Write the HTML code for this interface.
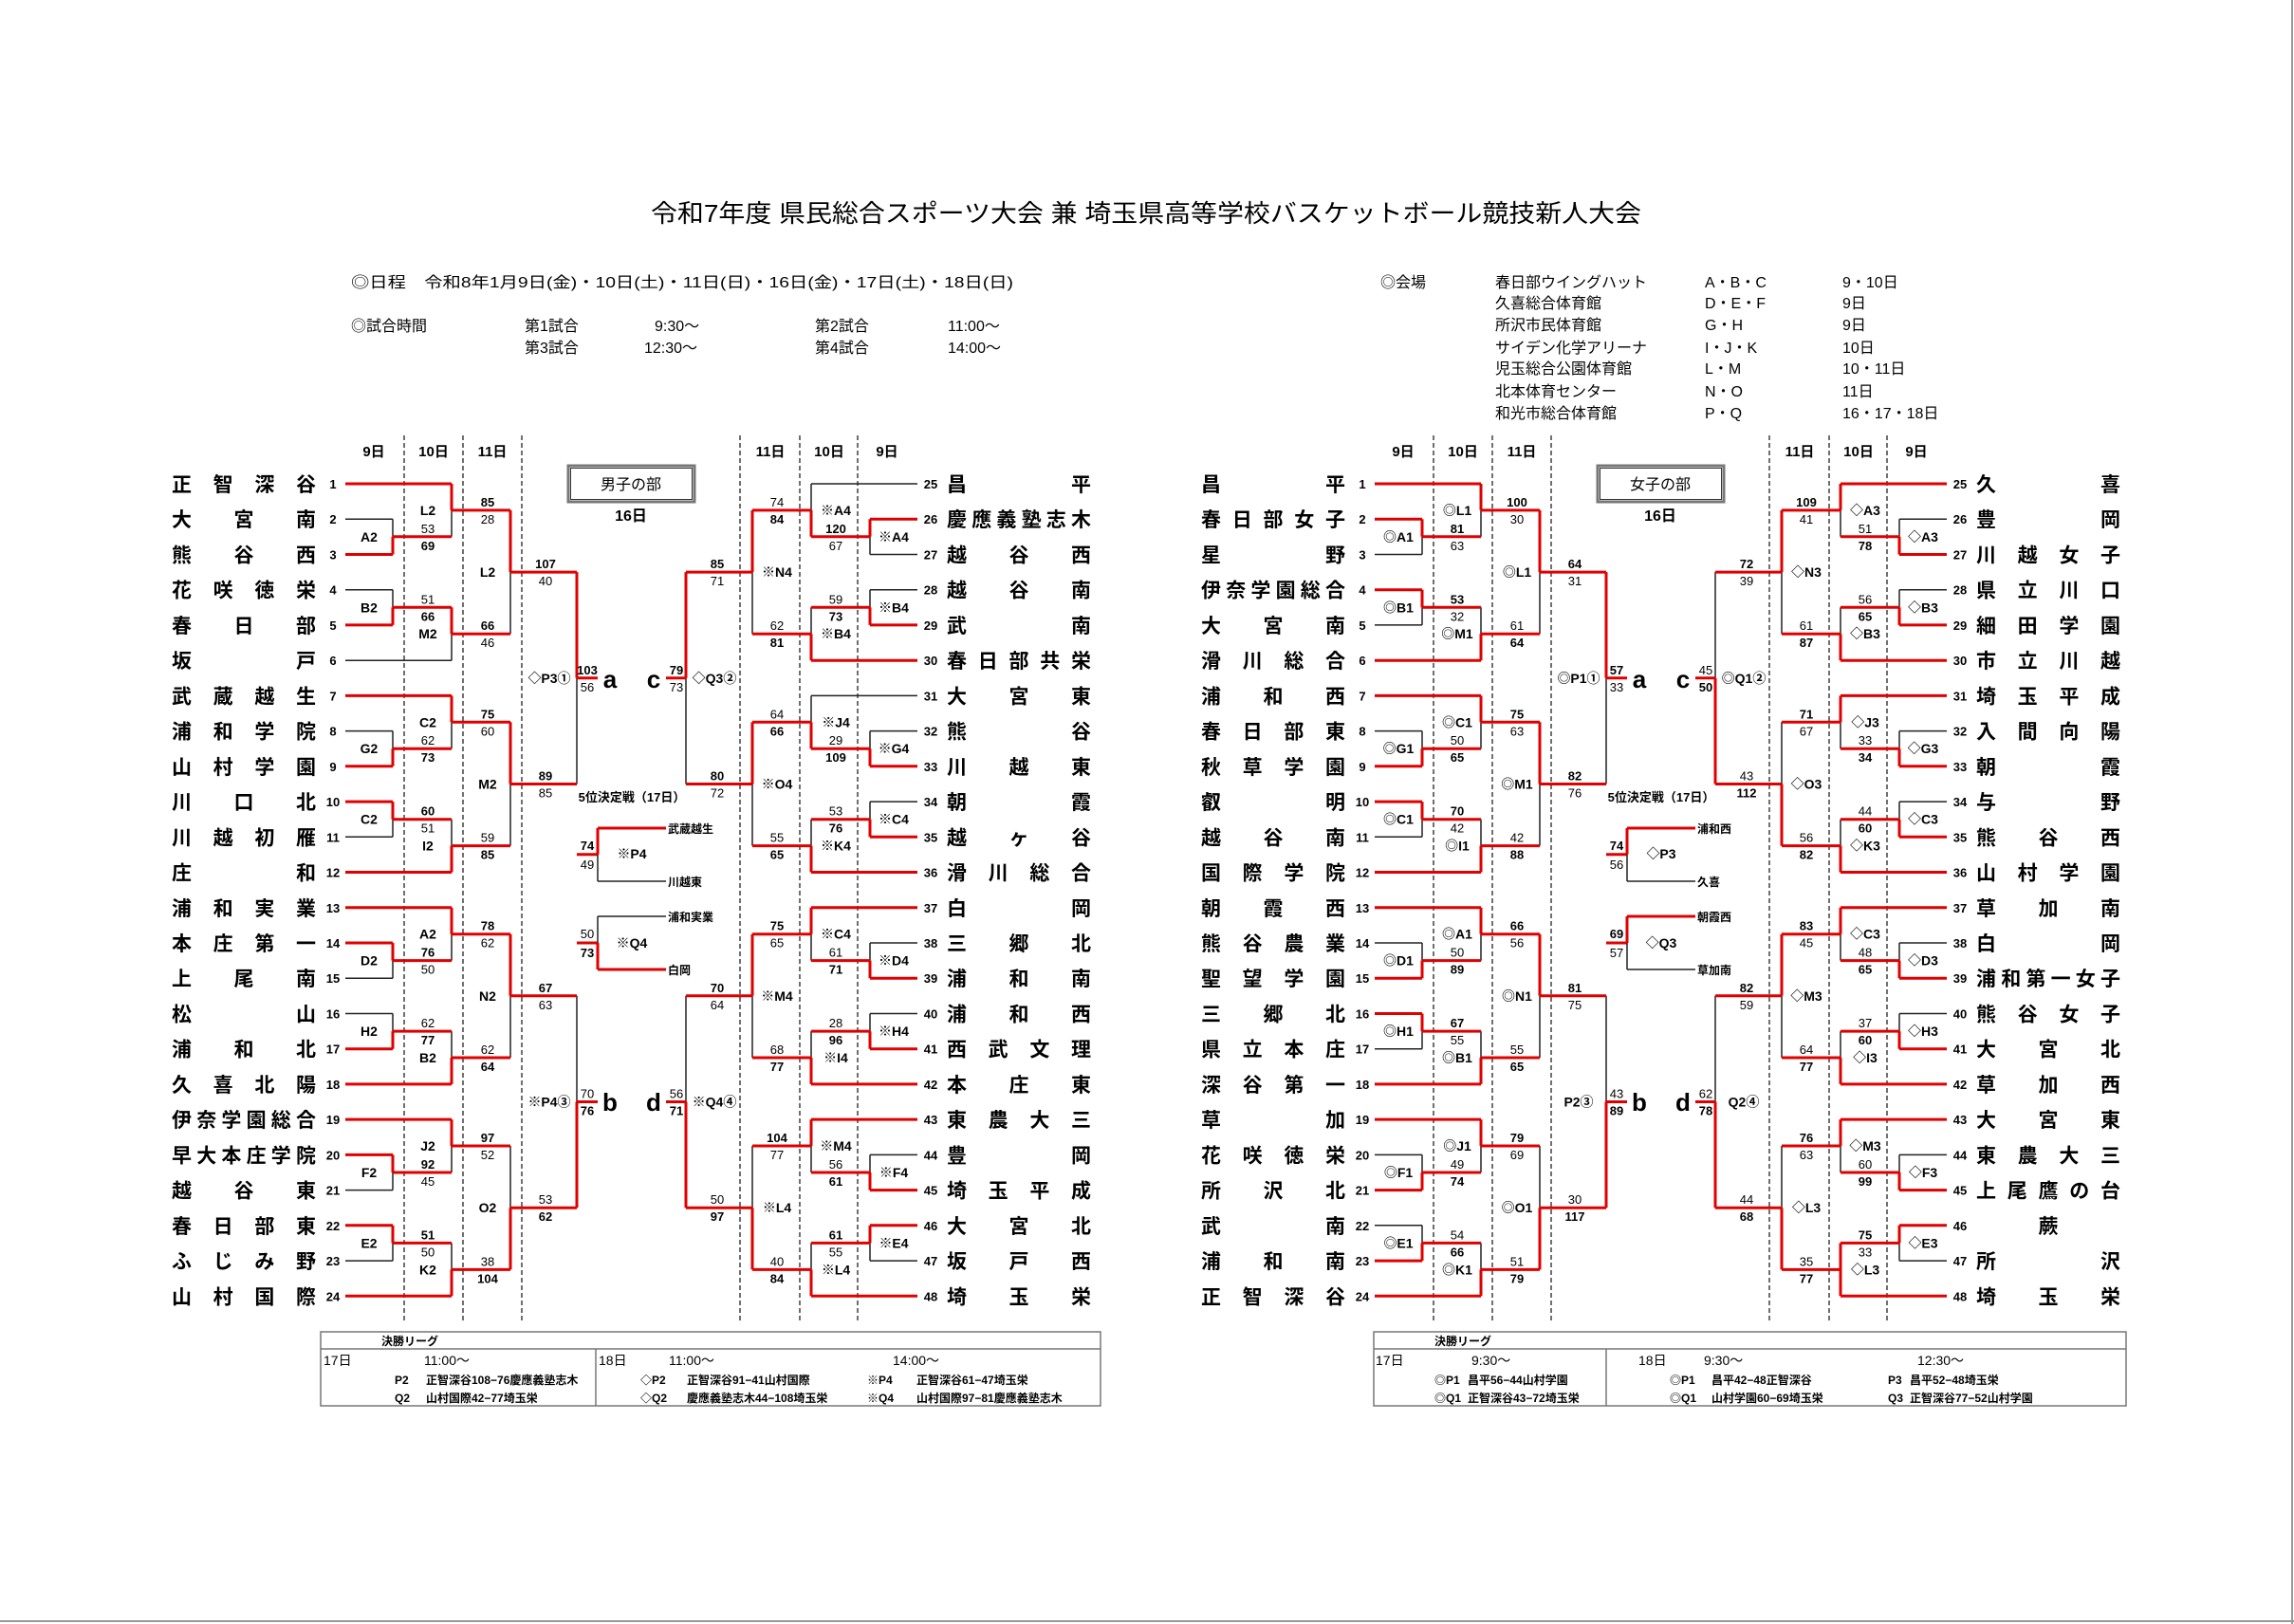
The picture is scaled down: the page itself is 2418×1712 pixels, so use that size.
<!DOCTYPE html>
<html><head><meta charset="utf-8">
<style>
html,body{margin:0;padding:0;background:#fff;}
svg{display:block}
svg text{font-family:"Liberation Sans","Noto Sans CJK JP",sans-serif;fill:#000}
.n{font-size:21px;font-weight:bold}
.k{font-size:13px;font-weight:bold;text-anchor:middle}
.s{font-size:13px;text-anchor:middle}
.b{font-weight:bold}
.l{font-size:14px;font-weight:bold;text-anchor:middle}
.d{font-size:15px;font-weight:bold;text-anchor:middle}
.h{font-size:16px}
.f{font-size:12px;font-weight:bold}
.fr{font-size:14px}
.r{stroke:#e00000;stroke-width:3;fill:none}
.g{stroke:#222;stroke-width:1.5;fill:none}
.ds{stroke:#222;stroke-width:1.3;stroke-dasharray:5 3;fill:none}
</style></head><body>
<svg width="2418" height="1712" viewBox="0 0 2418 1712" xmlns="http://www.w3.org/2000/svg">
<rect x="0" y="0" width="2418" height="1712" fill="#fff"/>
<line x1="0" y1="1709" x2="2418" y2="1709" stroke="#999" stroke-width="2"/>
<line x1="2416" y1="0" x2="2416" y2="1712" stroke="#999" stroke-width="2"/>

<!-- header -->
<text x="686" y="234" font-size="26" textLength="1044" lengthAdjust="spacingAndGlyphs">令和7年度  県民総合スポーツ大会  兼  埼玉県高等学校バスケットボール競技新人大会</text>
<text class="h" x="370" y="303" textLength="698" lengthAdjust="spacingAndGlyphs">◎日程　令和8年1月9日(金)・10日(土)・11日(日)・16日(金)・17日(土)・18日(日)</text>
<text class="h" x="370" y="349">◎試合時間</text>
<text class="h" x="553" y="349">第1試合</text><text class="h" x="690" y="349">9:30〜</text>
<text class="h" x="859" y="349">第2試合</text><text class="h" x="999" y="349">11:00〜</text>
<text class="h" x="553" y="372">第3試合</text><text class="h" x="679" y="372">12:30〜</text>
<text class="h" x="859" y="372">第4試合</text><text class="h" x="999" y="372">14:00〜</text>
<text class="h" x="1455" y="303">◎会場</text>
<g class="h">
<text class="h" x="1576" y="303">春日部ウイングハット</text><text class="h" x="1797" y="303">A・B・C</text><text class="h" x="1942" y="303">9・10日</text>
<text class="h" x="1576" y="325">久喜総合体育館</text><text class="h" x="1797" y="325">D・E・F</text><text class="h" x="1942" y="325">9日</text>
<text class="h" x="1576" y="348">所沢市民体育館</text><text class="h" x="1797" y="348">G・H</text><text class="h" x="1942" y="348">9日</text>
<text class="h" x="1576" y="372">サイデン化学アリーナ</text><text class="h" x="1797" y="372">I・J・K</text><text class="h" x="1942" y="372">10日</text>
<text class="h" x="1576" y="394">児玉総合公園体育館</text><text class="h" x="1797" y="394">L・M</text><text class="h" x="1942" y="394">10・11日</text>
<text class="h" x="1576" y="418">北本体育センター</text><text class="h" x="1797" y="418">N・O</text><text class="h" x="1942" y="418">11日</text>
<text class="h" x="1576" y="441">和光市総合体育館</text><text class="h" x="1797" y="441">P・Q</text><text class="h" x="1942" y="441">16・17・18日</text>
</g>

<!-- ===== MEN ===== -->
<g id="men">
<path class="ds" d="M426 459V1392M488 459V1392M550 459V1392M780 459V1392M843 459V1392M904 459V1392"/>
<text class="d" x="394" y="481">9日</text><text class="d" x="457" y="481">10日</text><text class="d" x="519" y="481">11日</text>
<text class="d" x="812" y="481">11日</text><text class="d" x="874" y="481">10日</text><text class="d" x="935" y="481">9日</text>
<rect x="599" y="491" width="133" height="38" fill="none" stroke="#777" stroke-width="3"/>
<rect x="601.5" y="493.5" width="128" height="33" fill="none" stroke="#333" stroke-width="1"/>
<text x="665" y="516" font-size="16" text-anchor="middle">男子の部</text>
<text x="665" y="549" font-size="16" font-weight="bold" text-anchor="middle">16日</text>
<text x="643" y="725" font-size="26" font-weight="bold" text-anchor="middle">a</text>
<text x="689" y="725" font-size="26" font-weight="bold" text-anchor="middle">c</text>
<text x="643" y="1171" font-size="26" font-weight="bold" text-anchor="middle">b</text>
<text x="689" y="1171" font-size="26" font-weight="bold" text-anchor="middle">d</text>
<text x="666" y="845" font-size="13" font-weight="bold" text-anchor="middle">5位決定戦（17日）</text>

<!-- men left lines -->
<path class="g" d="M364 547.2H414M414 547.2V565.8M476 537.9V565.8M364 621.7H414M414 621.7V640.3M364 696.2H476M476 668.2V696.2M538 603.1V668.2
M364 770.6H414M414 770.6V789.2M476 761.3V789.2M364 882.3H414M414 863.7V882.3M476 863.7V891.6M538 826.5V891.6M608 714.8V826.5
M364 1031.2H414M414 1012.6V1031.2M476 984.7V1012.6M364 1068.5H414M414 1068.5V1087.1M476 1087.1V1115M538 1049.8V1115
M364 1254.6H414M414 1236V1254.6M476 1208V1236M364 1329.1H414M414 1310.4V1329.1M476 1310.4V1338.4M538 1208V1273.2M608 1049.8V1161.5"/>
<path class="r" d="M364 510H476M364 584.5H414M414 565.8V584.5M414 565.8H476M476 510V537.9M364 658.9H414M414 640.3V658.9M414 640.3H476M476 640.3V668.2M476 537.9H538M476 668.2H538M538 537.9V603.1M538 603.1H608
M364 733.4H476M364 807.8H414M414 789.2V807.8M414 789.2H476M476 733.4V761.3M364 845.1H414M414 845.1V863.7M414 863.7H476M364 919.5H476M476 891.6V919.5M476 761.3H538M476 891.6H538M538 761.3V826.5M538 826.5H608
M608 603.1V714.8M608 714.8H630
M364 956.8H476M364 994H414M414 994V1012.6M414 1012.6H476M476 956.8V984.7M364 1105.7H414M414 1087.1V1105.7M414 1087.1H476M364 1142.9H476M476 1115V1142.9M476 984.7H538M476 1115H538M538 984.7V1049.8M538 1049.8H608
M364 1180.1H476M364 1217.4H414M414 1217.4V1236M414 1236H476M476 1180.1V1208M364 1291.8H414M414 1291.8V1310.4M414 1310.4H476M364 1366.3H476M476 1338.4V1366.3M476 1208H538M476 1338.4H538M538 1273.2V1338.4M538 1273.2H608
M608 1161.5V1273.2M608 1161.5H630"/>
<!-- men right lines -->
<path class="g" d="M967 510H855M855 510V537.9M967 584.5H917M917 565.8V584.5M967 621.7H917M917 621.7V640.3M855 640.3V668.2M793 603.1V668.2
M967 733.4H855M855 733.4V761.3M967 770.6H917M917 770.6V789.2M967 845.1H917M917 845.1V863.7M855 863.7V891.6M793 826.5V891.6M723 714.8V826.5
M967 994H917M917 994V1012.6M855 984.7V1012.6M967 1068.5H917M917 1068.5V1087.1M855 1087.1V1115M793 1049.8V1115
M967 1217.4H917M917 1217.4V1236M855 1208V1236M967 1329.1H917M917 1310.4V1329.1M855 1310.4V1338.4M793 1208V1273.2M723 1049.8V1161.5"/>
<path class="r" d="M967 547.2H917M917 547.2V565.8M917 565.8H855M855 537.9V565.8M967 658.9H917M917 640.3V658.9M917 640.3H855M967 696.2H855M855 668.2V696.2M855 537.9H793M855 668.2H793M793 537.9V603.1M793 603.1H723
M967 807.8H917M917 789.2V807.8M917 789.2H855M855 761.3V789.2M967 882.3H917M917 863.7V882.3M917 863.7H855M967 919.5H855M855 891.6V919.5M855 761.3H793M855 891.6H793M793 761.3V826.5M793 826.5H723
M723 603.1V714.8M723 714.8H702
M967 956.8H855M855 956.8V984.7M967 1031.2H917M917 1012.6V1031.2M917 1012.6H855M967 1105.7H917M917 1087.1V1105.7M917 1087.1H855M967 1142.9H855M855 1115V1142.9M855 984.7H793M855 1115H793M793 984.7V1049.8M793 1049.8H723
M967 1180.1H855M855 1180.1V1208M967 1254.6H917M917 1236V1254.6M917 1236H855M967 1291.8H917M917 1291.8V1310.4M917 1310.4H855M967 1366.3H855M855 1338.4V1366.3M855 1208H793M855 1338.4H793M793 1273.2V1338.4M793 1273.2H723
M723 1161.5V1273.2M723 1161.5H702"/>
<!-- men 5th place -->
<path class="r" d="M608 900.7H630M630 873V900.7M630 873H702M608 994H630M630 994V1022M630 1022H702"/>
<path class="g" d="M630 900.7V929M630 929H702M630 966H702M630 966V994"/>
<text class="f" x="704" y="878">武蔵越生</text><text class="f" x="704" y="934">川越東</text>
<text class="f" x="704" y="971">浦和実業</text><text class="f" x="704" y="1027">白岡</text>
<text class="l" x="666" y="905">※P4</text><text class="l" x="666" y="999">※Q4</text>
<text class="s b" x="619" y="896">74</text><text class="s" x="619" y="916">49</text>
<text class="s" x="619" y="989">50</text><text class="s b" x="619" y="1009">73</text>

<!-- men names left -->
<text class="n" x="181" y="518" textLength="152" lengthAdjust="spacing">正智深谷</text>
<text class="n" x="181" y="555.2" textLength="152" lengthAdjust="spacing">大宮南</text>
<text class="n" x="181" y="592.5" textLength="152" lengthAdjust="spacing">熊谷西</text>
<text class="n" x="181" y="629.7" textLength="152" lengthAdjust="spacing">花咲徳栄</text>
<text class="n" x="181" y="666.9" textLength="152" lengthAdjust="spacing">春日部</text>
<text class="n" x="181" y="704.2" textLength="152" lengthAdjust="spacing">坂戸</text>
<text class="n" x="181" y="741.4" textLength="152" lengthAdjust="spacing">武蔵越生</text>
<text class="n" x="181" y="778.6" textLength="152" lengthAdjust="spacing">浦和学院</text>
<text class="n" x="181" y="815.8" textLength="152" lengthAdjust="spacing">山村学園</text>
<text class="n" x="181" y="853.1" textLength="152" lengthAdjust="spacing">川口北</text>
<text class="n" x="181" y="890.3" textLength="152" lengthAdjust="spacing">川越初雁</text>
<text class="n" x="181" y="927.5" textLength="152" lengthAdjust="spacing">庄和</text>
<text class="n" x="181" y="964.8" textLength="152" lengthAdjust="spacing">浦和実業</text>
<text class="n" x="181" y="1002" textLength="152" lengthAdjust="spacing">本庄第一</text>
<text class="n" x="181" y="1039.2" textLength="152" lengthAdjust="spacing">上尾南</text>
<text class="n" x="181" y="1076.5" textLength="152" lengthAdjust="spacing">松山</text>
<text class="n" x="181" y="1113.7" textLength="152" lengthAdjust="spacing">浦和北</text>
<text class="n" x="181" y="1150.9" textLength="152" lengthAdjust="spacing">久喜北陽</text>
<text class="n" x="181" y="1188.1" textLength="152" lengthAdjust="spacing">伊奈学園総合</text>
<text class="n" x="181" y="1225.4" textLength="152" lengthAdjust="spacing">早大本庄学院</text>
<text class="n" x="181" y="1262.6" textLength="152" lengthAdjust="spacing">越谷東</text>
<text class="n" x="181" y="1299.8" textLength="152" lengthAdjust="spacing">春日部東</text>
<text class="n" x="181" y="1337.1" textLength="152" lengthAdjust="spacing">ふじみ野</text>
<text class="n" x="181" y="1374.3" textLength="152" lengthAdjust="spacing">山村国際</text>
<!-- men names right -->
<text class="n" x="998" y="518" textLength="152" lengthAdjust="spacing">昌平</text>
<text class="n" x="998" y="555.2" textLength="152" lengthAdjust="spacing">慶應義塾志木</text>
<text class="n" x="998" y="592.5" textLength="152" lengthAdjust="spacing">越谷西</text>
<text class="n" x="998" y="629.7" textLength="152" lengthAdjust="spacing">越谷南</text>
<text class="n" x="998" y="666.9" textLength="152" lengthAdjust="spacing">武南</text>
<text class="n" x="998" y="704.2" textLength="152" lengthAdjust="spacing">春日部共栄</text>
<text class="n" x="998" y="741.4" textLength="152" lengthAdjust="spacing">大宮東</text>
<text class="n" x="998" y="778.6" textLength="152" lengthAdjust="spacing">熊谷</text>
<text class="n" x="998" y="815.8" textLength="152" lengthAdjust="spacing">川越東</text>
<text class="n" x="998" y="853.1" textLength="152" lengthAdjust="spacing">朝霞</text>
<text class="n" x="998" y="890.3" textLength="152" lengthAdjust="spacing">越ヶ谷</text>
<text class="n" x="998" y="927.5" textLength="152" lengthAdjust="spacing">滑川総合</text>
<text class="n" x="998" y="964.8" textLength="152" lengthAdjust="spacing">白岡</text>
<text class="n" x="998" y="1002" textLength="152" lengthAdjust="spacing">三郷北</text>
<text class="n" x="998" y="1039.2" textLength="152" lengthAdjust="spacing">浦和南</text>
<text class="n" x="998" y="1076.5" textLength="152" lengthAdjust="spacing">浦和西</text>
<text class="n" x="998" y="1113.7" textLength="152" lengthAdjust="spacing">西武文理</text>
<text class="n" x="998" y="1150.9" textLength="152" lengthAdjust="spacing">本庄東</text>
<text class="n" x="998" y="1188.1" textLength="152" lengthAdjust="spacing">東農大三</text>
<text class="n" x="998" y="1225.4" textLength="152" lengthAdjust="spacing">豊岡</text>
<text class="n" x="998" y="1262.6" textLength="152" lengthAdjust="spacing">埼玉平成</text>
<text class="n" x="998" y="1299.8" textLength="152" lengthAdjust="spacing">大宮北</text>
<text class="n" x="998" y="1337.1" textLength="152" lengthAdjust="spacing">坂戸西</text>
<text class="n" x="998" y="1374.3" textLength="152" lengthAdjust="spacing">埼玉栄</text>
<!-- men numbers -->
<g class="k">
<text class="k" x="351" y="515">1</text><text class="k" x="351" y="552.2">2</text><text class="k" x="351" y="589.5">3</text><text class="k" x="351" y="626.7">4</text><text class="k" x="351" y="663.9">5</text><text class="k" x="351" y="701.2">6</text><text class="k" x="351" y="738.4">7</text><text class="k" x="351" y="775.6">8</text><text class="k" x="351" y="812.8">9</text><text class="k" x="351" y="850.1">10</text><text class="k" x="351" y="887.3">11</text><text class="k" x="351" y="924.5">12</text><text class="k" x="351" y="961.8">13</text><text class="k" x="351" y="999">14</text><text class="k" x="351" y="1036.2">15</text><text class="k" x="351" y="1073.5">16</text><text class="k" x="351" y="1110.7">17</text><text class="k" x="351" y="1147.9">18</text><text class="k" x="351" y="1185.1">19</text><text class="k" x="351" y="1222.4">20</text><text class="k" x="351" y="1259.6">21</text><text class="k" x="351" y="1296.8">22</text><text class="k" x="351" y="1334.1">23</text><text class="k" x="351" y="1371.3">24</text>
<text class="k" x="981" y="515">25</text><text class="k" x="981" y="552.2">26</text><text class="k" x="981" y="589.5">27</text><text class="k" x="981" y="626.7">28</text><text class="k" x="981" y="663.9">29</text><text class="k" x="981" y="701.2">30</text><text class="k" x="981" y="738.4">31</text><text class="k" x="981" y="775.6">32</text><text class="k" x="981" y="812.8">33</text><text class="k" x="981" y="850.1">34</text><text class="k" x="981" y="887.3">35</text><text class="k" x="981" y="924.5">36</text><text class="k" x="981" y="961.8">37</text><text class="k" x="981" y="999">38</text><text class="k" x="981" y="1036.2">39</text><text class="k" x="981" y="1073.5">40</text><text class="k" x="981" y="1110.7">41</text><text class="k" x="981" y="1147.9">42</text><text class="k" x="981" y="1185.1">43</text><text class="k" x="981" y="1222.4">44</text><text class="k" x="981" y="1259.6">45</text><text class="k" x="981" y="1296.8">46</text><text class="k" x="981" y="1334.1">47</text><text class="k" x="981" y="1371.3">48</text>
</g>
<!-- men left scores -->
<text class="s" x="451" y="561.8">53</text><text class="s b" x="451" y="579.8">69</text>
<text class="s" x="451" y="636.3">51</text><text class="s b" x="451" y="654.3">66</text>
<text class="s" x="451" y="785.2">62</text><text class="s b" x="451" y="803.2">73</text>
<text class="s b" x="451" y="859.7">60</text><text class="s" x="451" y="877.7">51</text>
<text class="s b" x="451" y="1008.6">76</text><text class="s" x="451" y="1026.6">50</text>
<text class="s" x="451" y="1083.1">62</text><text class="s b" x="451" y="1101.1">77</text>
<text class="s b" x="451" y="1232">92</text><text class="s" x="451" y="1250">45</text>
<text class="s b" x="451" y="1306.4">51</text><text class="s" x="451" y="1324.4">50</text>
<text class="s b" x="514" y="533.9">85</text><text class="s" x="514" y="551.9">28</text>
<text class="s b" x="514" y="664.2">66</text><text class="s" x="514" y="682.2">46</text>
<text class="s b" x="514" y="757.3">75</text><text class="s" x="514" y="775.3">60</text>
<text class="s" x="514" y="887.6">59</text><text class="s b" x="514" y="905.6">85</text>
<text class="s b" x="514" y="980.7">78</text><text class="s" x="514" y="998.7">62</text>
<text class="s" x="514" y="1111">62</text><text class="s b" x="514" y="1129">64</text>
<text class="s b" x="514" y="1204">97</text><text class="s" x="514" y="1222">52</text>
<text class="s" x="514" y="1334.4">38</text><text class="s b" x="514" y="1352.4">104</text>
<text class="s b" x="575" y="599.1">107</text><text class="s" x="575" y="617.1">40</text>
<text class="s b" x="575" y="822.5">89</text><text class="s" x="575" y="840.5">85</text>
<text class="s b" x="575" y="1045.8">67</text><text class="s" x="575" y="1063.8">63</text>
<text class="s" x="575" y="1269.2">53</text><text class="s b" x="575" y="1287.2">62</text>
<text class="s b" x="619" y="710.8" font-size="11">103</text><text class="s" x="619" y="728.8">56</text>
<text class="s" x="619" y="1157.5">70</text><text class="s b" x="619" y="1175.5">76</text>
<!-- men left labels -->
<text class="l" x="389" y="570.8">A2</text><text class="l" x="389" y="645.3">B2</text><text class="l" x="389" y="794.2">G2</text><text class="l" x="389" y="868.7">C2</text><text class="l" x="389" y="1017.6">D2</text><text class="l" x="389" y="1092.1">H2</text><text class="l" x="389" y="1241">F2</text><text class="l" x="389" y="1315.4">E2</text>
<text class="l" x="451" y="542.9">L2</text><text class="l" x="451" y="673.2">M2</text><text class="l" x="451" y="766.3">C2</text><text class="l" x="451" y="896.6">I2</text><text class="l" x="451" y="989.7">A2</text><text class="l" x="451" y="1120">B2</text><text class="l" x="451" y="1213">J2</text><text class="l" x="451" y="1343.4">K2</text>
<text class="l" x="514" y="608.1">L2</text><text class="l" x="514" y="831.5">M2</text><text class="l" x="514" y="1054.8">N2</text><text class="l" x="514" y="1278.2">O2</text>
<text class="l" x="579" y="719.8">◇P3①</text><text class="l" x="579" y="1166.5">※P4③</text>
<!-- men right scores -->
<text class="s b" x="881" y="561.8">120</text><text class="s" x="881" y="579.8">67</text>
<text class="s" x="881" y="636.3">59</text><text class="s b" x="881" y="654.3">73</text>
<text class="s" x="881" y="785.2">29</text><text class="s b" x="881" y="803.2">109</text>
<text class="s" x="881" y="859.7">53</text><text class="s b" x="881" y="877.7">76</text>
<text class="s" x="881" y="1008.6">61</text><text class="s b" x="881" y="1026.6">71</text>
<text class="s" x="881" y="1083.1">28</text><text class="s b" x="881" y="1101.1">96</text>
<text class="s" x="881" y="1232">56</text><text class="s b" x="881" y="1250">61</text>
<text class="s b" x="881" y="1306.4">61</text><text class="s" x="881" y="1324.4">55</text>
<text class="s" x="819" y="533.9">74</text><text class="s b" x="819" y="551.9">84</text>
<text class="s" x="819" y="664.2">62</text><text class="s b" x="819" y="682.2">81</text>
<text class="s" x="819" y="757.3">64</text><text class="s b" x="819" y="775.3">66</text>
<text class="s" x="819" y="887.6">55</text><text class="s b" x="819" y="905.6">65</text>
<text class="s b" x="819" y="980.7">75</text><text class="s" x="819" y="998.7">65</text>
<text class="s" x="819" y="1111">68</text><text class="s b" x="819" y="1129">77</text>
<text class="s b" x="819" y="1204">104</text><text class="s" x="819" y="1222">77</text>
<text class="s" x="819" y="1334.4">40</text><text class="s b" x="819" y="1352.4">84</text>
<text class="s b" x="756" y="599.1">85</text><text class="s" x="756" y="617.1">71</text>
<text class="s b" x="756" y="822.5">80</text><text class="s" x="756" y="840.5">72</text>
<text class="s b" x="756" y="1045.8">70</text><text class="s" x="756" y="1063.8">64</text>
<text class="s" x="756" y="1269.2">50</text><text class="s b" x="756" y="1287.2">97</text>
<text class="s b" x="713" y="710.8">79</text><text class="s" x="713" y="728.8">73</text>
<text class="s" x="713" y="1157.5">56</text><text class="s b" x="713" y="1175.5">71</text>
<!-- men right labels -->
<text class="l" x="942" y="570.8">※A4</text><text class="l" x="942" y="645.3">※B4</text><text class="l" x="942" y="794.2">※G4</text><text class="l" x="942" y="868.7">※C4</text><text class="l" x="942" y="1017.6">※D4</text><text class="l" x="942" y="1092.1">※H4</text><text class="l" x="942" y="1241">※F4</text><text class="l" x="942" y="1315.4">※E4</text>
<text class="l" x="881" y="542.9">※A4</text><text class="l" x="881" y="673.2">※B4</text><text class="l" x="881" y="766.3">※J4</text><text class="l" x="881" y="896.6">※K4</text><text class="l" x="881" y="989.7">※C4</text><text class="l" x="881" y="1120">※I4</text><text class="l" x="881" y="1213">※M4</text><text class="l" x="881" y="1343.4">※L4</text>
<text class="l" x="819" y="608.1">※N4</text><text class="l" x="819" y="831.5">※O4</text><text class="l" x="819" y="1054.8">※M4</text><text class="l" x="819" y="1278.2">※L4</text>
<text class="l" x="753" y="719.8">◇Q3②</text><text class="l" x="753" y="1166.5">※Q4④</text>
</g>

<!-- ===== WOMEN ===== -->
<g transform="translate(1085,0)">
<path class="ds" d="M426 459V1392M488 459V1392M550 459V1392M780 459V1392M843 459V1392M904 459V1392"/>
<text class="d" x="394" y="481">9日</text><text class="d" x="457" y="481">10日</text><text class="d" x="519" y="481">11日</text>
<text class="d" x="812" y="481">11日</text><text class="d" x="874" y="481">10日</text><text class="d" x="935" y="481">9日</text>
<rect x="599" y="491" width="133" height="38" fill="none" stroke="#777" stroke-width="3"/>
<rect x="601.5" y="493.5" width="128" height="33" fill="none" stroke="#333" stroke-width="1"/>
<text x="665" y="516" font-size="16" text-anchor="middle">女子の部</text>
<text x="665" y="549" font-size="16" font-weight="bold" text-anchor="middle">16日</text>
<text x="643" y="725" font-size="26" font-weight="bold" text-anchor="middle">a</text>
<text x="689" y="725" font-size="26" font-weight="bold" text-anchor="middle">c</text>
<text x="643" y="1171" font-size="26" font-weight="bold" text-anchor="middle">b</text>
<text x="689" y="1171" font-size="26" font-weight="bold" text-anchor="middle">d</text>
<text x="666" y="845" font-size="13" font-weight="bold" text-anchor="middle">5位決定戦（17日）</text>

<!-- women left lines -->
<path class="g" d="M364 584.5H414M414 565.8V584.5M476 537.9V565.8M364 658.9H414M414 640.3V658.9M476 640.3V668.2M538 603.1V668.2
M364 770.6H414M414 770.6V789.2M476 761.3V789.2M364 882.3H414M414 863.7V882.3M476 863.7V891.6M538 826.5V891.6M608 714.8V826.5
M364 994H414M414 994V1012.6M476 984.7V1012.6M364 1105.7H414M414 1087.1V1105.7M476 1087.1V1115M538 1049.8V1115
M364 1217.4H414M414 1217.4V1236M476 1208V1236M364 1291.8H414M414 1291.8V1310.4M476 1310.4V1338.4M538 1208V1273.2M608 1049.8V1161.5"/>
<path class="r" d="M364 510H476M364 547.2H414M414 547.2V565.8M414 565.8H476M476 510V537.9M364 621.7H414M414 621.7V640.3M414 640.3H476M364 696.2H476M476 668.2V696.2M476 537.9H538M476 668.2H538M538 537.9V603.1M538 603.1H608
M364 733.4H476M364 807.8H414M414 789.2V807.8M414 789.2H476M476 733.4V761.3M364 845.1H414M414 845.1V863.7M414 863.7H476M364 919.5H476M476 891.6V919.5M476 761.3H538M476 891.6H538M538 761.3V826.5M538 826.5H608
M608 603.1V714.8M608 714.8H630
M364 956.8H476M364 1031.2H414M414 1012.6V1031.2M414 1012.6H476M476 956.8V984.7M364 1068.5H414M414 1068.5V1087.1M414 1087.1H476M364 1142.9H476M476 1115V1142.9M476 984.7H538M476 1115H538M538 984.7V1049.8M538 1049.8H608
M364 1180.1H476M364 1254.6H414M414 1236V1254.6M414 1236H476M476 1180.1V1208M364 1329.1H414M414 1310.4V1329.1M414 1310.4H476M364 1366.3H476M476 1338.4V1366.3M476 1208H538M476 1338.4H538M538 1273.2V1338.4M538 1273.2H608
M608 1161.5V1273.2M608 1161.5H630"/>
<!-- women right lines -->
<path class="g" d="M967 547.2H917M917 547.2V565.8M855 537.9V565.8M967 621.7H917M917 621.7V640.3M855 640.3V668.2M793 603.1V668.2
M967 770.6H917M917 770.6V789.2M855 761.3V789.2M967 845.1H917M917 845.1V863.7M855 863.7V891.6M793 761.3V826.5M723 603.1V714.8
M967 994H917M917 994V1012.6M855 984.7V1012.6M967 1068.5H917M917 1068.5V1087.1M855 1087.1V1115M793 1049.8V1115
M967 1217.4H917M917 1217.4V1236M855 1208V1236M967 1329.1H917M917 1310.4V1329.1M793 1208V1273.2M723 1049.8V1161.5"/>
<path class="r" d="M967 510H855M855 510V537.9M967 584.5H917M917 565.8V584.5M917 565.8H855M967 658.9H917M917 640.3V658.9M917 640.3H855M967 696.2H855M855 668.2V696.2M855 537.9H793M855 668.2H793M793 537.9V603.1M793 603.1H723
M967 733.4H855M855 733.4V761.3M967 807.8H917M917 789.2V807.8M917 789.2H855M967 882.3H917M917 863.7V882.3M917 863.7H855M967 919.5H855M855 891.6V919.5M855 761.3H793M855 891.6H793M793 826.5V891.6M793 826.5H723
M723 714.8V826.5M723 714.8H702
M967 956.8H855M855 956.8V984.7M967 1031.2H917M917 1012.6V1031.2M917 1012.6H855M967 1105.7H917M917 1087.1V1105.7M917 1087.1H855M967 1142.9H855M855 1115V1142.9M855 984.7H793M855 1115H793M793 984.7V1049.8M793 1049.8H723
M967 1180.1H855M855 1180.1V1208M967 1254.6H917M917 1236V1254.6M917 1236H855M967 1291.8H917M917 1291.8V1310.4M917 1310.4H855M967 1366.3H855M855 1310.4V1366.3M855 1208H793M855 1338.4H793M793 1273.2V1338.4M793 1273.2H723
M723 1161.5V1273.2M723 1161.5H702"/>
<!-- women 5th place -->
<path class="r" d="M608 900.7H630M630 873V900.7M630 873H702M608 994H630M630 966V994M630 966H702"/>
<path class="g" d="M630 900.7V929M630 929H702M630 994V1022M630 1022H702"/>
<text class="f" x="704" y="878">浦和西</text><text class="f" x="704" y="934">久喜</text>
<text class="f" x="704" y="971">朝霞西</text><text class="f" x="704" y="1027">草加南</text>
<text class="l" x="666" y="905">◇P3</text><text class="l" x="666" y="999">◇Q3</text>
<text class="s b" x="619" y="896">74</text><text class="s" x="619" y="916">56</text>
<text class="s b" x="619" y="989">69</text><text class="s" x="619" y="1009">57</text>

<!-- women names left -->
<text class="n" x="181" y="518" textLength="152" lengthAdjust="spacing">昌平</text>
<text class="n" x="181" y="555.2" textLength="152" lengthAdjust="spacing">春日部女子</text>
<text class="n" x="181" y="592.5" textLength="152" lengthAdjust="spacing">星野</text>
<text class="n" x="181" y="629.7" textLength="152" lengthAdjust="spacing">伊奈学園総合</text>
<text class="n" x="181" y="666.9" textLength="152" lengthAdjust="spacing">大宮南</text>
<text class="n" x="181" y="704.2" textLength="152" lengthAdjust="spacing">滑川総合</text>
<text class="n" x="181" y="741.4" textLength="152" lengthAdjust="spacing">浦和西</text>
<text class="n" x="181" y="778.6" textLength="152" lengthAdjust="spacing">春日部東</text>
<text class="n" x="181" y="815.8" textLength="152" lengthAdjust="spacing">秋草学園</text>
<text class="n" x="181" y="853.1" textLength="152" lengthAdjust="spacing">叡明</text>
<text class="n" x="181" y="890.3" textLength="152" lengthAdjust="spacing">越谷南</text>
<text class="n" x="181" y="927.5" textLength="152" lengthAdjust="spacing">国際学院</text>
<text class="n" x="181" y="964.8" textLength="152" lengthAdjust="spacing">朝霞西</text>
<text class="n" x="181" y="1002" textLength="152" lengthAdjust="spacing">熊谷農業</text>
<text class="n" x="181" y="1039.2" textLength="152" lengthAdjust="spacing">聖望学園</text>
<text class="n" x="181" y="1076.5" textLength="152" lengthAdjust="spacing">三郷北</text>
<text class="n" x="181" y="1113.7" textLength="152" lengthAdjust="spacing">県立本庄</text>
<text class="n" x="181" y="1150.9" textLength="152" lengthAdjust="spacing">深谷第一</text>
<text class="n" x="181" y="1188.1" textLength="152" lengthAdjust="spacing">草加</text>
<text class="n" x="181" y="1225.4" textLength="152" lengthAdjust="spacing">花咲徳栄</text>
<text class="n" x="181" y="1262.6" textLength="152" lengthAdjust="spacing">所沢北</text>
<text class="n" x="181" y="1299.8" textLength="152" lengthAdjust="spacing">武南</text>
<text class="n" x="181" y="1337.1" textLength="152" lengthAdjust="spacing">浦和南</text>
<text class="n" x="181" y="1374.3" textLength="152" lengthAdjust="spacing">正智深谷</text>
<!-- women names right -->
<text class="n" x="998" y="518" textLength="152" lengthAdjust="spacing">久喜</text>
<text class="n" x="998" y="555.2" textLength="152" lengthAdjust="spacing">豊岡</text>
<text class="n" x="998" y="592.5" textLength="152" lengthAdjust="spacing">川越女子</text>
<text class="n" x="998" y="629.7" textLength="152" lengthAdjust="spacing">県立川口</text>
<text class="n" x="998" y="666.9" textLength="152" lengthAdjust="spacing">細田学園</text>
<text class="n" x="998" y="704.2" textLength="152" lengthAdjust="spacing">市立川越</text>
<text class="n" x="998" y="741.4" textLength="152" lengthAdjust="spacing">埼玉平成</text>
<text class="n" x="998" y="778.6" textLength="152" lengthAdjust="spacing">入間向陽</text>
<text class="n" x="998" y="815.8" textLength="152" lengthAdjust="spacing">朝霞</text>
<text class="n" x="998" y="853.1" textLength="152" lengthAdjust="spacing">与野</text>
<text class="n" x="998" y="890.3" textLength="152" lengthAdjust="spacing">熊谷西</text>
<text class="n" x="998" y="927.5" textLength="152" lengthAdjust="spacing">山村学園</text>
<text class="n" x="998" y="964.8" textLength="152" lengthAdjust="spacing">草加南</text>
<text class="n" x="998" y="1002" textLength="152" lengthAdjust="spacing">白岡</text>
<text class="n" x="998" y="1039.2" textLength="152" lengthAdjust="spacing">浦和第一女子</text>
<text class="n" x="998" y="1076.5" textLength="152" lengthAdjust="spacing">熊谷女子</text>
<text class="n" x="998" y="1113.7" textLength="152" lengthAdjust="spacing">大宮北</text>
<text class="n" x="998" y="1150.9" textLength="152" lengthAdjust="spacing">草加西</text>
<text class="n" x="998" y="1188.1" textLength="152" lengthAdjust="spacing">大宮東</text>
<text class="n" x="998" y="1225.4" textLength="152" lengthAdjust="spacing">東農大三</text>
<text class="n" x="998" y="1262.6" textLength="152" lengthAdjust="spacing">上尾鷹の台</text>
<text class="n" x="1074" y="1299.8" text-anchor="middle">蕨</text>
<text class="n" x="998" y="1337.1" textLength="152" lengthAdjust="spacing">所沢</text>
<text class="n" x="998" y="1374.3" textLength="152" lengthAdjust="spacing">埼玉栄</text>
<!-- women numbers -->
<text class="k" x="351" y="515">1</text><text class="k" x="351" y="552.2">2</text><text class="k" x="351" y="589.5">3</text><text class="k" x="351" y="626.7">4</text><text class="k" x="351" y="663.9">5</text><text class="k" x="351" y="701.2">6</text><text class="k" x="351" y="738.4">7</text><text class="k" x="351" y="775.6">8</text><text class="k" x="351" y="812.8">9</text><text class="k" x="351" y="850.1">10</text><text class="k" x="351" y="887.3">11</text><text class="k" x="351" y="924.5">12</text><text class="k" x="351" y="961.8">13</text><text class="k" x="351" y="999">14</text><text class="k" x="351" y="1036.2">15</text><text class="k" x="351" y="1073.5">16</text><text class="k" x="351" y="1110.7">17</text><text class="k" x="351" y="1147.9">18</text><text class="k" x="351" y="1185.1">19</text><text class="k" x="351" y="1222.4">20</text><text class="k" x="351" y="1259.6">21</text><text class="k" x="351" y="1296.8">22</text><text class="k" x="351" y="1334.1">23</text><text class="k" x="351" y="1371.3">24</text>
<text class="k" x="981" y="515">25</text><text class="k" x="981" y="552.2">26</text><text class="k" x="981" y="589.5">27</text><text class="k" x="981" y="626.7">28</text><text class="k" x="981" y="663.9">29</text><text class="k" x="981" y="701.2">30</text><text class="k" x="981" y="738.4">31</text><text class="k" x="981" y="775.6">32</text><text class="k" x="981" y="812.8">33</text><text class="k" x="981" y="850.1">34</text><text class="k" x="981" y="887.3">35</text><text class="k" x="981" y="924.5">36</text><text class="k" x="981" y="961.8">37</text><text class="k" x="981" y="999">38</text><text class="k" x="981" y="1036.2">39</text><text class="k" x="981" y="1073.5">40</text><text class="k" x="981" y="1110.7">41</text><text class="k" x="981" y="1147.9">42</text><text class="k" x="981" y="1185.1">43</text><text class="k" x="981" y="1222.4">44</text><text class="k" x="981" y="1259.6">45</text><text class="k" x="981" y="1296.8">46</text><text class="k" x="981" y="1334.1">47</text><text class="k" x="981" y="1371.3">48</text>
<!-- women left scores -->
<text class="s b" x="451" y="561.8">81</text><text class="s" x="451" y="579.8">63</text>
<text class="s b" x="451" y="636.3">53</text><text class="s" x="451" y="654.3">32</text>
<text class="s" x="451" y="785.2">50</text><text class="s b" x="451" y="803.2">65</text>
<text class="s b" x="451" y="859.7">70</text><text class="s" x="451" y="877.7">42</text>
<text class="s" x="451" y="1008.6">50</text><text class="s b" x="451" y="1026.6">89</text>
<text class="s b" x="451" y="1083.1">67</text><text class="s" x="451" y="1101.1">55</text>
<text class="s" x="451" y="1232">49</text><text class="s b" x="451" y="1250">74</text>
<text class="s" x="451" y="1306.4">54</text><text class="s b" x="451" y="1324.4">66</text>
<text class="s b" x="514" y="533.9">100</text><text class="s" x="514" y="551.9">30</text>
<text class="s" x="514" y="664.2">61</text><text class="s b" x="514" y="682.2">64</text>
<text class="s b" x="514" y="757.3">75</text><text class="s" x="514" y="775.3">63</text>
<text class="s" x="514" y="887.6">42</text><text class="s b" x="514" y="905.6">88</text>
<text class="s b" x="514" y="980.7">66</text><text class="s" x="514" y="998.7">56</text>
<text class="s" x="514" y="1111">55</text><text class="s b" x="514" y="1129">65</text>
<text class="s b" x="514" y="1204">79</text><text class="s" x="514" y="1222">69</text>
<text class="s" x="514" y="1334.4">51</text><text class="s b" x="514" y="1352.4">79</text>
<text class="s b" x="575" y="599.1">64</text><text class="s" x="575" y="617.1">31</text>
<text class="s b" x="575" y="822.5">82</text><text class="s" x="575" y="840.5">76</text>
<text class="s b" x="575" y="1045.8">81</text><text class="s" x="575" y="1063.8">75</text>
<text class="s" x="575" y="1269.2">30</text><text class="s b" x="575" y="1287.2">117</text>
<text class="s b" x="619" y="710.8">57</text><text class="s" x="619" y="728.8">33</text>
<text class="s" x="619" y="1157.5">43</text><text class="s b" x="619" y="1175.5">89</text>
<!-- women left labels -->
<text class="l" x="389" y="570.8">◎A1</text><text class="l" x="389" y="645.3">◎B1</text><text class="l" x="389" y="794.2">◎G1</text><text class="l" x="389" y="868.7">◎C1</text><text class="l" x="389" y="1017.6">◎D1</text><text class="l" x="389" y="1092.1">◎H1</text><text class="l" x="389" y="1241">◎F1</text><text class="l" x="389" y="1315.4">◎E1</text>
<text class="l" x="451" y="542.9">◎L1</text><text class="l" x="451" y="673.2">◎M1</text><text class="l" x="451" y="766.3">◎C1</text><text class="l" x="451" y="896.6">◎I1</text><text class="l" x="451" y="989.7">◎A1</text><text class="l" x="451" y="1120">◎B1</text><text class="l" x="451" y="1213">◎J1</text><text class="l" x="451" y="1343.4">◎K1</text>
<text class="l" x="514" y="608.1">◎L1</text><text class="l" x="514" y="831.5">◎M1</text><text class="l" x="514" y="1054.8">◎N1</text><text class="l" x="514" y="1278.2">◎O1</text>
<text class="l" x="579" y="719.8">◎P1①</text><text class="l" x="579" y="1166.5">P2③</text>
<!-- women right scores -->
<text class="s" x="881" y="561.8">51</text><text class="s b" x="881" y="579.8">78</text>
<text class="s" x="881" y="636.3">56</text><text class="s b" x="881" y="654.3">65</text>
<text class="s" x="881" y="785.2">33</text><text class="s b" x="881" y="803.2">34</text>
<text class="s" x="881" y="859.7">44</text><text class="s b" x="881" y="877.7">60</text>
<text class="s" x="881" y="1008.6">48</text><text class="s b" x="881" y="1026.6">65</text>
<text class="s" x="881" y="1083.1">37</text><text class="s b" x="881" y="1101.1">60</text>
<text class="s" x="881" y="1232">60</text><text class="s b" x="881" y="1250">99</text>
<text class="s b" x="881" y="1306.4">75</text><text class="s" x="881" y="1324.4">33</text>
<text class="s b" x="819" y="533.9">109</text><text class="s" x="819" y="551.9">41</text>
<text class="s" x="819" y="664.2">61</text><text class="s b" x="819" y="682.2">87</text>
<text class="s b" x="819" y="757.3">71</text><text class="s" x="819" y="775.3">67</text>
<text class="s" x="819" y="887.6">56</text><text class="s b" x="819" y="905.6">82</text>
<text class="s b" x="819" y="980.7">83</text><text class="s" x="819" y="998.7">45</text>
<text class="s" x="819" y="1111">64</text><text class="s b" x="819" y="1129">77</text>
<text class="s b" x="819" y="1204">76</text><text class="s" x="819" y="1222">63</text>
<text class="s" x="819" y="1334.4">35</text><text class="s b" x="819" y="1352.4">77</text>
<text class="s b" x="756" y="599.1">72</text><text class="s" x="756" y="617.1">39</text>
<text class="s" x="756" y="822.5">43</text><text class="s b" x="756" y="840.5">112</text>
<text class="s b" x="756" y="1045.8">82</text><text class="s" x="756" y="1063.8">59</text>
<text class="s" x="756" y="1269.2">44</text><text class="s b" x="756" y="1287.2">68</text>
<text class="s" x="713" y="710.8">45</text><text class="s b" x="713" y="728.8">50</text>
<text class="s" x="713" y="1157.5">62</text><text class="s b" x="713" y="1175.5">78</text>
<!-- women right labels -->
<text class="l" x="942" y="570.8">◇A3</text><text class="l" x="942" y="645.3">◇B3</text><text class="l" x="942" y="794.2">◇G3</text><text class="l" x="942" y="868.7">◇C3</text><text class="l" x="942" y="1017.6">◇D3</text><text class="l" x="942" y="1092.1">◇H3</text><text class="l" x="942" y="1241">◇F3</text><text class="l" x="942" y="1315.4">◇E3</text>
<text class="l" x="881" y="542.9">◇A3</text><text class="l" x="881" y="673.2">◇B3</text><text class="l" x="881" y="766.3">◇J3</text><text class="l" x="881" y="896.6">◇K3</text><text class="l" x="881" y="989.7">◇C3</text><text class="l" x="881" y="1120">◇I3</text><text class="l" x="881" y="1213">◇M3</text><text class="l" x="881" y="1343.4">◇L3</text>
<text class="l" x="819" y="608.1">◇N3</text><text class="l" x="819" y="831.5">◇O3</text><text class="l" x="819" y="1054.8">◇M3</text><text class="l" x="819" y="1278.2">◇L3</text>
<text class="l" x="753" y="719.8">◎Q1②</text><text class="l" x="753" y="1166.5">Q2④</text>
</g>

<!-- ===== FOOTER TABLES ===== -->
<g fill="none" stroke="#777" stroke-width="1.5">
<rect x="338" y="1404" width="822" height="78"/>
<line x1="338" y1="1422" x2="1160" y2="1422"/>
<line x1="628" y1="1422" x2="628" y2="1482"/>
<rect x="1448" y="1404" width="793" height="78"/>
<line x1="1448" y1="1422" x2="2241" y2="1422"/>
<line x1="1693" y1="1422" x2="1693" y2="1482"/>
</g>
<text class="f" x="402" y="1418">決勝リーグ</text>
<text class="fr" x="341" y="1439">17日</text><text class="fr" x="447" y="1439">11:00〜</text>
<text class="fr" x="631" y="1439">18日</text><text class="fr" x="705" y="1439">11:00〜</text><text class="fr" x="941" y="1439">14:00〜</text>
<text class="f" x="416" y="1459">P2</text><text class="f" x="449" y="1459">正智深谷108−76慶應義塾志木</text>
<text class="f" x="416" y="1478">Q2</text><text class="f" x="449" y="1478">山村国際42−77埼玉栄</text>
<text class="f" x="675" y="1459">◇P2</text><text class="f" x="724" y="1459">正智深谷91−41山村国際</text>
<text class="f" x="675" y="1478">◇Q2</text><text class="f" x="724" y="1478">慶應義塾志木44−108埼玉栄</text>
<text class="f" x="914" y="1459">※P4</text><text class="f" x="966" y="1459">正智深谷61−47埼玉栄</text>
<text class="f" x="914" y="1478">※Q4</text><text class="f" x="966" y="1478">山村国際97−81慶應義塾志木</text>

<text class="f" x="1512" y="1418">決勝リーグ</text>
<text class="fr" x="1450" y="1439">17日</text><text class="fr" x="1551" y="1439">9:30〜</text>
<text class="fr" x="1727" y="1439">18日</text><text class="fr" x="1796" y="1439">9:30〜</text><text class="fr" x="2021" y="1439">12:30〜</text>
<text class="f" x="1512" y="1459">◎P1</text><text class="f" x="1547" y="1459">昌平56−44山村学園</text>
<text class="f" x="1512" y="1478">◎Q1</text><text class="f" x="1547" y="1478">正智深谷43−72埼玉栄</text>
<text class="f" x="1760" y="1459">◎P1</text><text class="f" x="1804" y="1459">昌平42−48正智深谷</text>
<text class="f" x="1760" y="1478">◎Q1</text><text class="f" x="1804" y="1478">山村学園60−69埼玉栄</text>
<text class="f" x="1990" y="1459">P3</text><text class="f" x="2013" y="1459">昌平52−48埼玉栄</text>
<text class="f" x="1990" y="1478">Q3</text><text class="f" x="2013" y="1478">正智深谷77−52山村学園</text>
</svg>
</body></html>
